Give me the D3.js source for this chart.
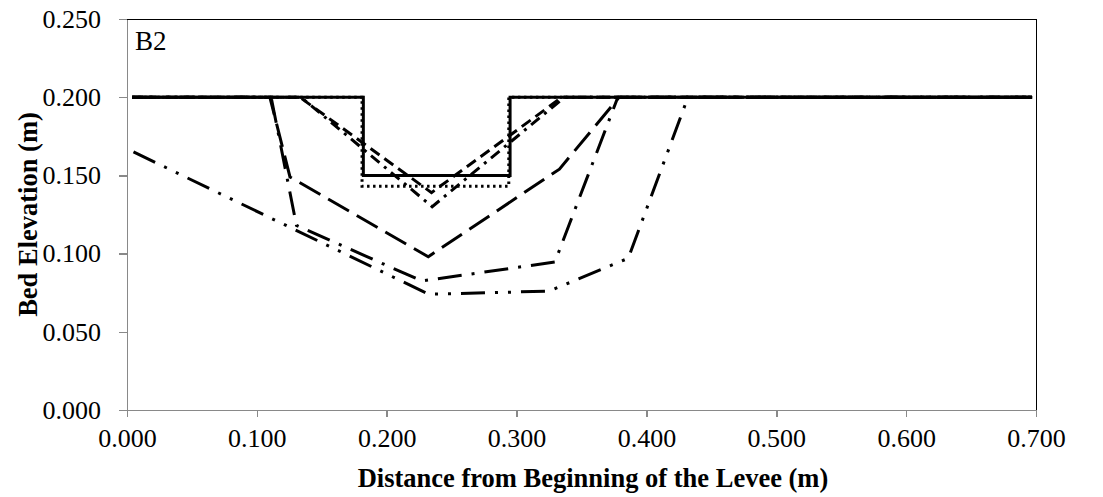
<!DOCTYPE html>
<meta charset="utf-8">
<style>
  body { margin: 0; background: #fff; }
  text { font-family: "Liberation Serif", "Times New Roman", serif; }
  .axis path, .axis line { stroke: #898989; stroke-width: 1.5; shape-rendering: crispEdges; }
  .axis text { font-size: 26px; fill: #000; }
  .series { fill: none; stroke: #000; stroke-width: 3; }
</style>
<body>
<script src="https://d3js.org/d3.v7.min.js"></script>
<script>

// Tick labels
var xTicks = [0, 0.1, 0.2, 0.3, 0.4, 0.5, 0.6, 0.7];
var yTicks = [0, 0.05, 0.1, 0.15, 0.2, 0.25];

// Series: distance (m) and bed elevation (m)
var solidX = [0.004, 0.182, 0.182, 0.295, 0.295, 0.697];
var solidY = [0.200, 0.200, 0.150, 0.150, 0.200, 0.200];

var dotX = [0.004, 0.181, 0.181, 0.294, 0.294, 0.697];
var dotY = [0.200, 0.200, 0.143, 0.143, 0.200, 0.200];

var dashX = [0.004, 0.133, 0.2345, 0.335, 0.697];
var dashY = [0.200, 0.200, 0.139, 0.200, 0.200];

var dashDotX = [0.004, 0.134, 0.235, 0.337, 0.697];
var dashDotY = [0.200, 0.200, 0.130, 0.200, 0.200];

var longDashX = [0.004, 0.110, 0.1255, 0.232, 0.333, 0.379, 0.697];
var longDashY = [0.200, 0.200, 0.149, 0.098, 0.154, 0.200, 0.200];

var longDashDotX = [0.004, 0.111, 0.1305, 0.227, 0.3295, 0.378, 0.697];
var longDashDotY = [0.200, 0.200, 0.118, 0.0825, 0.0946, 0.200, 0.200];

var longDashDotDotX = [0.005, 0.2325, 0.325, 0.386, 0.432, 0.697];
var longDashDotDotY = [0.165, 0.074, 0.076, 0.097, 0.200, 0.200];

var series = [
  { xs: solidX, ys: solidY, dash: null },
  { xs: dotX, ys: dotY, dash: "2.5 3.5" },
  { xs: dashX, ys: dashY, dash: "11 6" },
  { xs: dashDotX, ys: dashDotY, dash: "11 6 3 6" },
  { xs: longDashX, ys: longDashY, dash: "24 9" },
  { xs: longDashDotX, ys: longDashDotY, dash: "24 10 3 10" },
  { xs: longDashDotDotX, ys: longDashDotDotY, dash: "24 10 3 10 3 10" }
];

var margin = { top: 19, right: 67, bottom: 87, left: 127 },
  width = 1103 - margin.left - margin.right,
  height = 497 - margin.top - margin.bottom;

var svg = d3.select("body")
  .append("svg")
  .attr("width", 1103)
  .attr("height", 497);

var g = svg.append("g")
  .attr("transform", "translate(" + margin.left + "," + margin.top + ")");

var x = d3.scaleLinear().domain([0, 0.7]).range([0, width]);
var y = d3.scaleLinear().domain([0, 0.25]).range([height, 0]);

// plot area border (top and right)
g.append("path")
  .attr("d", "M0,0H" + width + "V" + height)
  .attr("fill", "none")
  .attr("stroke", "#000")
  .attr("stroke-width", 1)
  .style("shape-rendering", "crispEdges");

var fmt = d3.format(".3f");

g.append("g")
  .attr("class", "axis")
  .attr("transform", "translate(0," + height + ")")
  .call(d3.axisBottom(x).tickValues(xTicks).tickFormat(fmt).tickSize(7).tickSizeOuter(0).tickPadding(12))
  .selectAll("text").attr("dy", "0.71em");

g.append("g")
  .attr("class", "axis")
  .call(d3.axisLeft(y).tickValues(yTicks).tickFormat(fmt).tickSize(8).tickSizeOuter(0).tickPadding(18));

var line = d3.line()
  .x(function (d) { return x(d[0]); })
  .y(function (d) { return y(d[1]); });

series.forEach(function (s) {
  var pts = s.xs.map(function (v, i) { return [v, s.ys[i]]; });
  g.append("path")
    .datum(pts)
    .attr("class", "series")
    .attr("stroke-dasharray", s.dash)
    .attr("stroke-width", s.dash === "2.5 3.5" ? 2.5 : 3)
    .attr("d", line);
});

// panel label
g.append("text")
  .attr("x", 8)
  .attr("y", 31)
  .style("font-size", "27px")
  .text("B2");

// axis titles
svg.append("text")
  .attr("x", 593)
  .attr("y", 487)
  .attr("text-anchor", "middle")
  .style("font-size", "26.5px")
  .style("font-weight", "bold")
  .text("Distance from Beginning of the Levee (m)");

svg.append("text")
  .attr("transform", "translate(37,214.5) rotate(-90)")
  .attr("text-anchor", "middle")
  .style("font-size", "26.5px")
  .style("font-weight", "bold")
  .text("Bed Elevation (m)");

</script>
</body>
